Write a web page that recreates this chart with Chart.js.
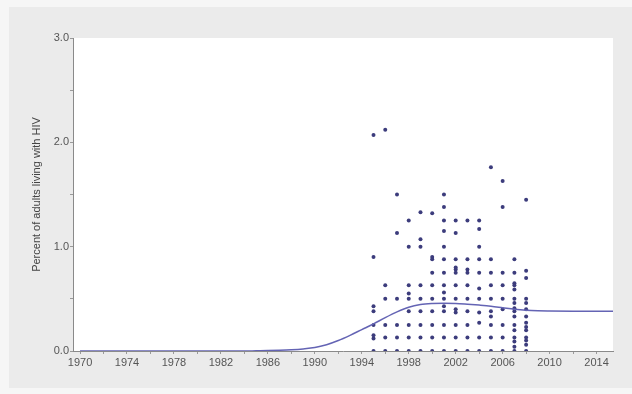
<!DOCTYPE html>
<html>
<head>
<meta charset="utf-8">
<script src="https://cdn.jsdelivr.net/npm/chart.js@4/dist/chart.umd.min.js"></script>
<style>
  html, body { margin: 0; padding: 0; background: #f6f6f6; }
  canvas { display: block; }
</style>
</head>
<body>
<canvas id="hivChart" width="632" height="394"></canvas>
<script>
// model curve, one value per year
const lineYears = [1970, 1975, 1980, 1984, 1985, 1986, 1987, 1988, 1989, 1990, 1991, 1992, 1993, 1994,
  1995, 1996, 1997, 1998, 1999, 2000, 2001, 2002, 2003, 2004, 2005, 2006, 2007, 2008, 2009, 2010,
  2012, 2015.4]
const lineValues = [0, 0, 0, 0, 0.002, 0.004, 0.007, 0.012, 0.02, 0.033, 0.06, 0.1, 0.15, 0.205,
  0.26, 0.32, 0.375, 0.42, 0.445, 0.455, 0.458, 0.455, 0.448, 0.44, 0.43, 0.415, 0.4, 0.39, 0.385, 0.383,
  0.381, 0.38]

// survey points, grouped by year
const surveyYears = [1995, 1996, 1997, 1998, 1999, 2000, 2001, 2002, 2003, 2004, 2005, 2006, 2007, 2008]
const surveyValues = [
  [2.07, 0.9, 0.43, 0.38, 0.25, 0.15, 0.12, 0],
  [2.12, 0.63, 0.5, 0.25, 0.13, 0],
  [1.5, 1.13, 0.5, 0.25, 0.13, 0],
  [1.25, 1.0, 0.63, 0.55, 0.5, 0.38, 0.25, 0.13, 0],
  [1.33, 1.07, 1.0, 0.63, 0.5, 0.38, 0.25, 0.13, 0],
  [1.32, 0.9, 0.88, 0.75, 0.63, 0.5, 0.38, 0.25, 0.13, 0],
  [1.5, 1.38, 1.25, 1.15, 1.0, 0.88, 0.75, 0.63, 0.56, 0.5, 0.43, 0.38, 0.25, 0.13, 0],
  [1.25, 1.13, 0.88, 0.8, 0.78, 0.75, 0.63, 0.5, 0.4, 0.37, 0.25, 0.13, 0],
  [1.25, 0.88, 0.78, 0.75, 0.63, 0.5, 0.38, 0.25, 0.13, 0],
  [1.25, 1.17, 1.0, 0.88, 0.75, 0.6, 0.5, 0.37, 0.27, 0.13, 0],
  [1.76, 0.88, 0.75, 0.63, 0.5, 0.38, 0.33, 0.25, 0.13, 0],
  [1.63, 1.38, 0.75, 0.63, 0.5, 0.4, 0.25, 0.13, 0],
  [0.88, 0.75, 0.65, 0.63, 0.59, 0.5, 0.46, 0.41, 0.38, 0.33, 0.25, 0.2, 0.13, 0.09, 0.04, 0],
  [1.45, 0.77, 0.7, 0.5, 0.46, 0.4, 0.33, 0.27, 0.23, 0.2, 0.13, 0.1, 0.06, 0]
]

const xTickYears = [1970, 1972, 1974, 1976, 1978, 1980, 1982, 1984, 1986, 1988, 1990, 1992, 1994,
  1996, 1998, 2000, 2002, 2004, 2006, 2008, 2010, 2012, 2014]
const yTickValues = [0, 0.5, 1, 1.5, 2, 2.5, 3]

const linePoints = lineYears.map((y, i) => ({ x: y, y: lineValues[i] }))
const surveyPoints = []
surveyYears.forEach((yr, i) => {
  surveyValues[i].forEach(v => surveyPoints.push({ x: yr, y: v }))
})

const panelBackground = {
  id: 'panelBackground',
  beforeDraw(chart) {
    const { ctx, chartArea } = chart
    ctx.save()
    ctx.fillStyle = '#f6f6f6'
    ctx.fillRect(0, 0, chart.width, chart.height)
    ctx.fillStyle = '#ebebeb'
    ctx.fillRect(9, 7, chart.width - 9, chart.height - 13)
    ctx.fillStyle = '#ffffff'
    ctx.fillRect(chartArea.left, chartArea.top, chartArea.right - chartArea.left, chartArea.bottom - chartArea.top)
    ctx.restore()
  }
}

const tickFont = { family: 'Liberation Sans, Arial, sans-serif', size: 11 }

new Chart(document.getElementById('hivChart'), {
  type: 'scatter',
  data: {
    datasets: [
      {
        label: 'Survey',
        data: surveyPoints,
        backgroundColor: '#3c3c7c',
        borderWidth: 0,
        pointRadius: 2,
        order: 2
      },
      {
        label: 'Model',
        type: 'line',
        data: linePoints,
        borderColor: '#6464b4',
        borderWidth: 1.5,
        pointRadius: 0,
        fill: false,
        cubicInterpolationMode: 'monotone',
        order: 1
      }
    ]
  },
  options: {
    responsive: false,
    animation: false,
    layout: { padding: { left: 0, top: 38, right: 19, bottom: 6 } },
    plugins: { legend: { display: false }, tooltip: { enabled: false } },
    scales: {
      x: {
        type: 'linear',
        min: 1969.4,
        max: 2015.4,
        afterBuildTicks: scale => { scale.ticks = xTickYears.map(v => ({ value: v })) },
        afterFit: scale => { scale.height = 37 },
        border: { color: '#8a8a8a', width: 1 },
        grid: { drawOnChartArea: false, tickLength: 3, color: '#9a9a9a' },
        ticks: {
          autoSkip: false,
          maxRotation: 0,
          padding: 2,
          color: '#555555',
          font: tickFont,
          callback: v => ((v - 1970) % 4 === 0 ? String(v) : '')
        }
      },
      y: {
        min: 0,
        max: 3,
        afterBuildTicks: scale => { scale.ticks = yTickValues.map(v => ({ value: v })) },
        afterFit: scale => { scale.width = 73 },
        border: { color: '#8a8a8a', width: 1 },
        grid: { drawOnChartArea: false, tickLength: 3, color: '#9a9a9a' },
        ticks: {
          autoSkip: false,
          padding: 1,
          color: '#555555',
          font: tickFont,
          callback: v => (Number.isInteger(v) ? v.toFixed(1) : '')
        },
        title: {
          display: true,
          text: 'Percent of adults living with HIV',
          color: '#444444',
          font: tickFont,
          padding: { top: 30, bottom: 0 }
        }
      }
    }
  },
  plugins: [panelBackground]
})
</script>
</body>
</html>
